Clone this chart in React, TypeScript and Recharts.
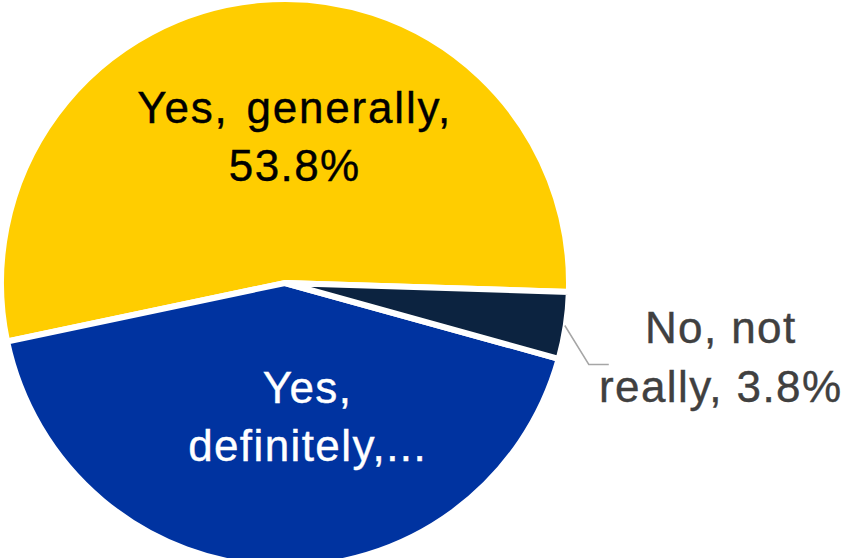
import React from 'react';
import { PieChart, Pie, Cell } from 'recharts';

const categories = ['Yes, generally', 'Yes, definitely', 'No, not really'];
const shares = [53.8, 42.4, 3.8];
const labelLines = [
  ['Yes, generally,', '53.8%'],
  ['Yes,', 'definitely,...'],
  ['No, not', 'really, 3.8%'],
];

const COLORS = ['#FFCD00', '#0033A0', '#0C2340'];
const TEXT_COLORS = ['#000000', '#FFFFFF', '#404040'];
const FONT = '"Liberation Sans", Arial, sans-serif';
const FONT_SIZE = 44;
const LINE_GAP = 58;

const data = categories.map((name, i) => ({ name, value: shares[i], lines: labelLines[i] }));

const RAD = Math.PI / 180;

const renderLabel = (props: any) => {
  const { cx, cy, midAngle, outerRadius, index } = props;
  const lines: string[] = labelLines[index];
  const cos = Math.cos(-midAngle * RAD);
  const sin = Math.sin(-midAngle * RAD);
  const rVis = outerRadius - 3;
  const textProps = {
    textAnchor: 'middle' as const,
    fill: TEXT_COLORS[index],
    stroke: TEXT_COLORS[index],
    strokeWidth: 0.4,
    fontFamily: FONT,
    fontSize: FONT_SIZE,
    letterSpacing: 1.4,
  };
  if (index < 2) {
    const ax = cx + rVis * 0.5 * cos;
    const ay = cy + rVis * 0.5 * sin;
    const dx = index === 0 ? 22 : 27;
    const dy = -20;
    return (
      <text key={`l${index}`} x={ax + dx} y={ay + dy} {...textProps}>
        {lines.map((t, k) => (
          <tspan
            key={k}
            x={ax + dx}
            dy={k === 0 ? 0 : LINE_GAP}
            wordSpacing={index === 0 && k === 0 ? 4 : 0}
            letterSpacing={index === 0 && k === 0 ? 1.8 : 1.4}
          >
            {t}
          </tspan>
        ))}
      </text>
    );
  }
  const sx = cx + (rVis + 2) * cos;
  const sy = cy + (rVis + 2) * sin;
  const ex = sx + 24;
  const ey = sy + 39;
  const hx = ex + 20;
  const tx = hx + 112;
  const ty = ey - 22;
  return (
    <g key={`l${index}`}>
      <polyline
        points={`${sx},${sy} ${ex},${ey} ${hx},${ey}`}
        fill="none"
        stroke="#A6A6A6"
        strokeWidth={1.5}
      />
      <text x={tx} y={ty} {...textProps}>
        {lines.map((t, k) => (
          <tspan key={k} x={tx} dy={k === 0 ? 0 : 59}>
            {t}
          </tspan>
        ))}
      </text>
    </g>
  );
};

export default function App() {
  return (
    <div style={{ position: 'fixed', left: 0, top: 0, width: 847, height: 558, background: '#fff' }}>
      <PieChart width={847} height={558} margin={{ top: 0, right: 0, bottom: 0, left: 0 }}>
        <Pie
          data={data}
          dataKey="value"
          nameKey="name"
          cx={285}
          cy={283}
          outerRadius={284}
          startAngle={-1.8}
          endAngle={358.2}
          stroke="#FFFFFF"
          strokeWidth={6}
          label={renderLabel}
          labelLine={false}
          isAnimationActive={false}
        >
          {data.map((d, i) => (
            <Cell key={d.name} fill={COLORS[i]} />
          ))}
        </Pie>
      </PieChart>
    </div>
  );
}
